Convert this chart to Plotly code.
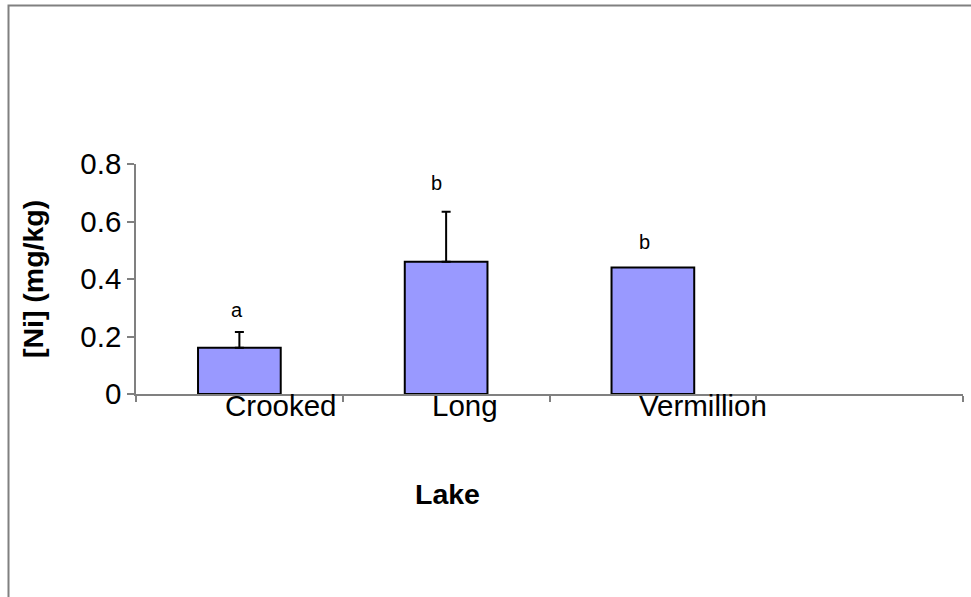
import plotly.graph_objects as go

# ---- data ----
lakes = ["Crooked", "Long", "Vermillion"]
ni_mean = [0.161, 0.46, 0.44]
ni_err_plus = [0.055, 0.174, None]   # no error bar for Vermillion
sig_letters = ["a", "b", "b"]
n_slots = 4  # category slots on the x axis (last one empty)
y_ticks = [0, 0.2, 0.4, 0.6, 0.8]

# ---- style ----
FONT = "Arial, Liberation Sans, Helvetica, sans-serif"
GRAY = "#808080"
letter_dx = [-2, -10, -8]
letter_dy = [22, 29, 26]

xs = list(range(len(lakes)))

fig = go.Figure()
fig.add_trace(go.Bar(
    x=xs, y=ni_mean, width=0.4,
    marker=dict(color="#9999FF", line=dict(color="black", width=2)),
    showlegend=False, hoverinfo="x+y",
))

# error bars only where a value exists
err_idx = [i for i, e in enumerate(ni_err_plus) if e is not None]
fig.add_trace(go.Scatter(
    x=[xs[i] for i in err_idx], y=[ni_mean[i] for i in err_idx],
    mode="markers", marker=dict(size=1, opacity=0),
    error_y=dict(type="data", symmetric=False,
                 array=[ni_err_plus[i] for i in err_idx],
                 arrayminus=[0] * len(err_idx), color="black",
                 thickness=2, width=4.5, visible=True),
    showlegend=False, hoverinfo="skip",
))

annotations = []
for i, name in enumerate(lakes):
    annotations.append(dict(
        x=i, y=0, xref="x", yref="y", text=name, showarrow=False,
        xanchor="left", yanchor="top", xshift=-16, yshift=7,
        font=dict(family=FONT, size=29.5, color="black")))
    top = ni_mean[i] + (ni_err_plus[i] or 0)
    annotations.append(dict(
        x=i, y=top, xref="x", yref="y",
        text=sig_letters[i], showarrow=False,
        xanchor="center", yanchor="middle",
        xshift=letter_dx[i], yshift=letter_dy[i],
        font=dict(family=FONT, size=20, color="black")))

annotations.append(dict(
    x=-0.1245, y=0.5, xref="paper", yref="paper", text="<b>[Ni] (mg/kg)</b>",
    textangle=-90, showarrow=False, xanchor="center", yanchor="middle",
    font=dict(family=FONT, size=28.5, color="black")))
annotations.append(dict(
    x=0.377, y=-0.435, xref="paper", yref="paper", text="<b>Lake</b>",
    showarrow=False, xanchor="center", yanchor="middle",
    font=dict(family=FONT, size=28.5, color="black")))

fig.update_layout(
    width=971, height=597,
    margin=dict(l=136, r=8, t=164, b=203, pad=0),
    paper_bgcolor="white", plot_bgcolor="white",
    font=dict(family=FONT, size=28, color="black"),
    annotations=annotations,
    shapes=[dict(type="rect", xref="paper", yref="paper",
                 x0=-0.15417, y0=1.6891, x1=1.2, y1=-1.3,
                 line=dict(color=GRAY, width=2), fillcolor="rgba(0,0,0,0)",
                 layer="below")],
    xaxis=dict(
        range=[-0.5, n_slots - 0.5],
        tickvals=[k - 0.5 for k in range(n_slots + 1)],
        showticklabels=False, ticks="outside", ticklen=6,
        tickcolor=GRAY, tickwidth=1.5,
        showline=True, linecolor=GRAY, linewidth=1.5,
        showgrid=False, zeroline=False, fixedrange=True),
    yaxis=dict(
        range=[0, 0.8], tickvals=y_ticks,
        ticktext=[("%g" % v) for v in y_ticks],
        ticks="outside", ticklen=7, tickcolor=GRAY, tickwidth=1.5,
        showline=True, linecolor=GRAY, linewidth=1.5,
        showgrid=False, zeroline=False,
        tickfont=dict(family=FONT, size=29.5, color="black")),
)

fig.write_html("out.html")
